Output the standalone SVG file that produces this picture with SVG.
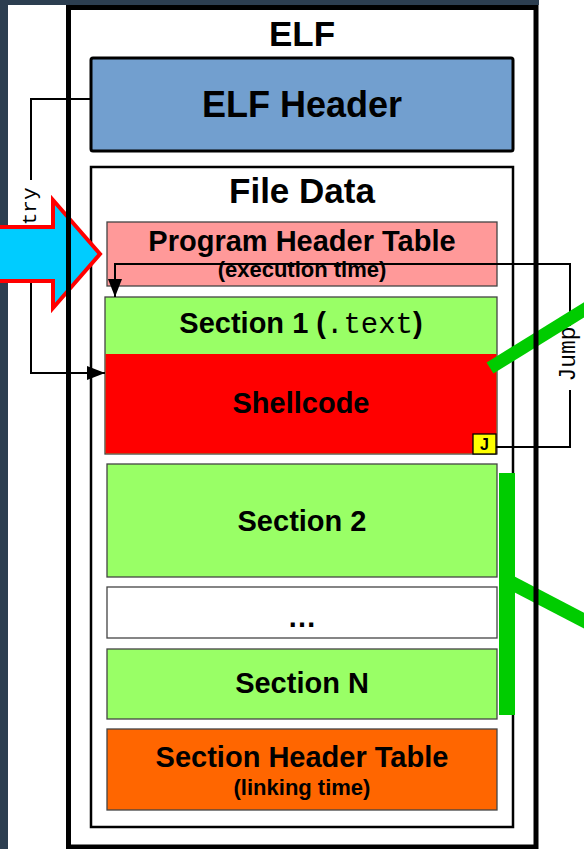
<svg xmlns="http://www.w3.org/2000/svg" width="584" height="849" viewBox="0 0 584 849">
  <style>
    .t { font-family: "Liberation Sans", Arial, sans-serif; font-weight: bold; fill: #000; text-anchor: middle; }
    .mono { font-family: "Liberation Mono", "Courier New", monospace; font-weight: normal; }
    .sec { stroke: #444; stroke-width: 1.3; }
    .wire { fill: none; stroke: #000; stroke-width: 2; }
    .lbl { font-family: "Liberation Mono", "Courier New", monospace; fill: #000; text-anchor: middle; dominant-baseline: central; }
    .callout { stroke: #00cc00; fill: none; }
  </style>
  <defs>
    <marker id="head" viewBox="0 0 18 14" markerUnits="userSpaceOnUse" markerWidth="18" markerHeight="14" refX="18" refY="7" orient="auto">
      <path d="M0,0 L18,7 L0,14 Z" fill="#000"/>
    </marker>
  </defs>

  <!-- page backdrop -->
  <rect x="0" y="0" width="584" height="849" fill="#2c3e50"/>
  <rect x="8" y="5" width="576" height="844" fill="#fff"/>
  <rect x="539" y="0" width="45" height="5" fill="#fff"/>

  <!-- ELF file container -->
  <g id="elf">
    <text class="t" x="302" y="46" font-size="35">ELF</text>
  </g>

  <g id="elf-header">
    <rect x="91" y="58" width="422" height="93" rx="2" fill="#729fcf" stroke="#000" stroke-width="3"/>
    <text class="t" x="302" y="117" font-size="36">ELF Header</text>
  </g>

  <g id="file-data">
    <rect x="91" y="167" width="422" height="660" fill="#fff" stroke="#000" stroke-width="2.5"/>
    <text class="t" x="302" y="203" font-size="35">File Data</text>
  </g>

  <g id="program-header-table">
    <rect x="107" y="222" width="390" height="64" fill="#ff9999" class="sec"/>
    <text class="t" x="302" y="251" font-size="29">Program Header Table</text>
    <text class="t" x="302" y="277" font-size="22">(execution time)</text>
  </g>

  <g id="section-1">
    <rect x="105" y="297" width="392" height="157" fill="#99ff66" class="sec"/>
    <text class="t" x="301" y="333" font-size="29">Section 1 (<tspan class="mono">.text</tspan>)</text>
  </g>

  <g id="shellcode">
    <rect x="105.6" y="354" width="390.8" height="99.4" fill="#ff0000"/>
    <text class="t" x="301" y="413" font-size="29">Shellcode</text>
  </g>

  <g id="jump-marker">
    <rect x="473" y="434" width="23" height="20" fill="#ffff00" stroke="#000" stroke-width="1.3"/>
    <text class="t" x="484.5" y="450" font-size="16">J</text>
  </g>

  <g id="section-2">
    <rect x="107" y="464" width="390" height="113" fill="#99ff66" class="sec"/>
    <text class="t" x="302" y="531" font-size="29">Section 2</text>
  </g>

  <g id="ellipsis">
    <rect x="107" y="587" width="390" height="51" fill="#fff" class="sec"/>
    <text class="t" x="302" y="627" font-size="29">…</text>
  </g>

  <g id="section-n">
    <rect x="107" y="649" width="390" height="70" fill="#99ff66" class="sec"/>
    <text class="t" x="302" y="693" font-size="29">Section N</text>
  </g>

  <g id="section-header-table">
    <rect x="107" y="729" width="390" height="81" fill="#ff6600" class="sec"/>
    <text class="t" x="302" y="767" font-size="29">Section Header Table</text>
    <text class="t" x="302" y="795" font-size="22">(linking time)</text>
  </g>

  <!-- connectors -->
  <g id="connectors">
    <!-- entry point: ELF header -> shellcode -->
    <path class="wire" d="M91,99 H31 V180 M31,258 V373 H105" marker-end="url(#head)"/>
    <text class="lbl" transform="translate(30,219) rotate(-90)" font-size="21">Entry</text>
    <!-- jump from shellcode back to the start of .text -->
    <path class="wire" d="M496,447 H570 V390 M570,326 V264 H115 V297" marker-end="url(#head)"/>
    <text class="lbl" transform="translate(569,354) rotate(-90)" font-size="23">Jump</text>
  </g>

  <!-- injection arrow -->
  <g id="inject-arrow">
    <polygon points="-6,227 53,227 53,200 100,254 53,308 53,281 -6,281" fill="#00ccff" stroke="#ff0000" stroke-width="4" stroke-linejoin="miter"/>
  </g>

  <!-- callout lines leading off to the right -->
  <g id="callouts">
    <line class="callout" x1="490" y1="368" x2="600" y2="300" stroke-width="13"/>
    <rect x="499" y="473" width="16" height="242" fill="#00cc00"/>
    <line class="callout" x1="508" y1="581" x2="600" y2="629" stroke-width="14"/>
  </g>

  <!-- outer ELF frame drawn last so it sits above the callouts -->
  <rect id="elf-frame" x="68.5" y="7.5" width="467.5" height="839.5" fill="none" stroke="#000" stroke-width="5"/>
</svg>
